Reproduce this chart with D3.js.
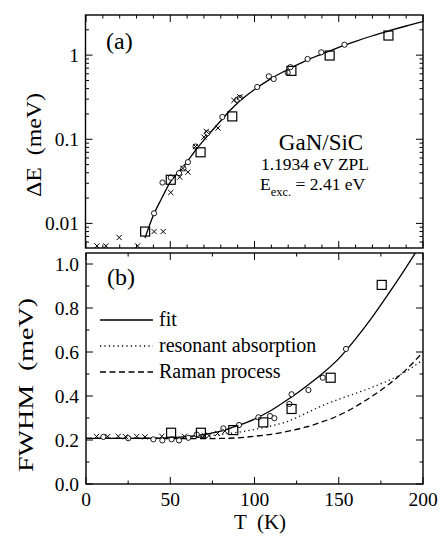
<!DOCTYPE html>
<html>
<head>
<meta charset="utf-8">
<script src="https://cdn.jsdelivr.net/npm/d3@7"></script>
<style>
  body { margin: 0; background: #fff; }
  text { font-family: "Liberation Serif", "DejaVu Serif", serif; fill: #000; }
</style>
</head>
<body>
<div id="top"></div>
<script>
// panel (a): energy splitting, log scale
var aCrosses = [[6.5,0.0054],[11.8,0.0054],[19.7,0.0068],[30.6,0.0054],[40.4,0.0080],[45.8,0.0080],
  [50.3,0.0233],[55.6,0.0355],[57.5,0.045],[60.5,0.0407],[65,0.082],[70,0.106],[71.4,0.124],
  [78.3,0.136],[87.8,0.29],[91.3,0.32]];
var aCircles = [[40.4,0.0132],[45.4,0.0306],[50.3,0.035],[55.2,0.0396],[57.8,0.045],[60.5,0.0535],
  [65,0.082],[72,0.118],[80.9,0.184],[89.7,0.295],[91.3,0.31],[101.6,0.418],[108.5,0.56],
  [111.4,0.52],[119.7,0.62],[121.3,0.72],[131.5,0.90],[139.6,1.08],[153.4,1.33]];
var aSquares = [[35.1,0.0080],[50.3,0.033],[68,0.070],[86.8,0.187],[121.9,0.65],[144.6,0.99],[179.5,1.71]];
var aFit = [[35,0.0067],[40,0.0125],[45,0.020],[50,0.031],[55,0.041],[60,0.054],[65,0.074],[70,0.098],
  [75,0.128],[80,0.166],[85,0.215],[90,0.27],[100,0.39],[110,0.53],[120,0.68],[130,0.85],[140,1.03],
  [150,1.24],[160,1.46],[170,1.70],[180,1.95],[190,2.22],[200,2.5]];

// panel (b): linewidth
var bCrosses = [[6.3,0.216],[12.9,0.216],[19.2,0.217],[23.5,0.215],[30.1,0.216],[35,0.214],[45,0.217],
  [58.4,0.217],[70.2,0.22],[73,0.22],[78.1,0.23],[82.4,0.24]];
var bCircles = [[10.3,0.214],[25.1,0.208],[40,0.203],[45.3,0.198],[50.8,0.203],[55.2,0.198],[60.7,0.21],
  [65.7,0.225],[81.5,0.253],[90.8,0.268],[102.3,0.303],[109.2,0.309],[111.8,0.299],[120.7,0.364],
  [122,0.408],[132,0.427],[140.5,0.483],[154.3,0.614]];
var bSquares = [[50.5,0.233],[68.2,0.233],[87.4,0.245],[105.2,0.28],[122,0.341],[145.2,0.483],[175.5,0.905]];
var bFit = [[0,0.207],[20,0.207],[40,0.208],[50,0.21],[60,0.215],[70,0.225],[80,0.24],[90,0.265],
  [100,0.295],[110,0.335],[120,0.385],[130,0.44],[140,0.50],[150,0.57],[160,0.66],[170,0.76],
  [180,0.87],[190,0.985],[200,1.105]];
var bResonant = [[0,0.207],[40,0.207],[60,0.212],[70,0.217],[80,0.225],[90,0.235],[100,0.248],
  [110,0.264],[120,0.285],[130,0.32],[140,0.355],[150,0.385],[160,0.412],[170,0.44],[180,0.472],
  [190,0.512],[200,0.565]];
var bRaman = [[0,0.207],[40,0.207],[60,0.206],[80,0.207],[90,0.21],[100,0.217],[110,0.226],[120,0.24],
  [130,0.258],[140,0.282],[150,0.312],[160,0.352],[170,0.40],[180,0.455],[190,0.52],[200,0.6]];

var xTickLabels = [0, 50, 100, 150, 200];
var aTickLabels = [0.01, 0.1, 1];
var bTickLabels = [0.0, 0.2, 0.4, 0.6, 0.8, 1.0];
var legendLabels = ["fit", "resonant absorption", "Raman process"];

var svg = d3.select('#top').append('svg').attr('width', 440).attr('height', 540);

var x = d3.scaleLinear().domain([0, 200]).range([86, 423]);
var yA = d3.scaleLog().domain([0.0051, 3.0]).range([248, 15]);
var yB = d3.scaleLinear().domain([0, 1.05]).range([484, 253]);

svg.append('clipPath').attr('id', 'clipA').append('rect')
  .attr('x', 86).attr('y', 15).attr('width', 337).attr('height', 233);
svg.append('clipPath').attr('id', 'clipB').append('rect')
  .attr('x', 86).attr('y', 253).attr('width', 337).attr('height', 231);

// ticks pointing inward on all four sides
function ticks(g, scale, vals, side, pos, len) {
  g.selectAll(null).data(vals).enter().append('line')
    .attr('stroke', '#000').attr('stroke-width', 1)
    .each(function(d) {
      var s = d3.select(this), p = scale(d);
      if (side == 'bottom') s.attr('x1', p).attr('x2', p).attr('y1', pos).attr('y2', pos - len);
      if (side == 'top') s.attr('x1', p).attr('x2', p).attr('y1', pos).attr('y2', pos + len);
      if (side == 'left') s.attr('y1', p).attr('y2', p).attr('x1', pos).attr('x2', pos + len);
      if (side == 'right') s.attr('y1', p).attr('y2', p).attr('x1', pos).attr('x2', pos - len);
    });
}

var xMajor = xTickLabels;
var xMinorA = d3.range(10, 200, 10).filter(function(d) { return d % 50 != 0; });
var xMinorB = [25, 75, 125, 175];

// panel a ticks
var ga = svg.append('g');
var aMinor = [];
[0.001, 0.01, 0.1, 1].forEach(function(dec) {
  for (var k = 2; k <= 9; k++) {
    var v = dec * k;
    if (v > 0.0051 && v < 3.0) aMinor.push(v);
  }
});
ticks(ga, x, xMajor, 'bottom', 248, 7);
ticks(ga, x, xMinorA, 'bottom', 248, 3.5);
ticks(ga, x, xMajor, 'top', 15, 7);
ticks(ga, x, xMinorA, 'top', 15, 3.5);
ticks(ga, yA, aTickLabels, 'left', 85.5, 7);
ticks(ga, yA, aMinor, 'left', 85.5, 3.5);
ticks(ga, yA, aTickLabels, 'right', 423, 7);
ticks(ga, yA, aMinor, 'right', 423, 3.5);

// panel b ticks
var gb = svg.append('g');
var bMinor = [0.1, 0.3, 0.5, 0.7, 0.9];
ticks(gb, x, xMajor, 'bottom', 484, 7);
ticks(gb, x, xMinorB, 'bottom', 484, 3.5);
ticks(gb, x, xMajor, 'top', 253, 7);
ticks(gb, x, xMinorB, 'top', 253, 3.5);
ticks(gb, yB, bTickLabels, 'left', 86, 7);
ticks(gb, yB, bMinor, 'left', 86, 3.5);
ticks(gb, yB, bTickLabels, 'right', 423, 7);
ticks(gb, yB, bMinor, 'right', 423, 3.5);

// frames
svg.append('rect').attr('x', 85.5).attr('y', 15).attr('width', 337.5).attr('height', 233)
  .attr('fill', 'none').attr('stroke', '#000').attr('stroke-width', 1.4);
svg.append('rect').attr('x', 86).attr('y', 253).attr('width', 337).attr('height', 231)
  .attr('fill', 'none').attr('stroke', '#000').attr('stroke-width', 1.4);

// tick labels
svg.selectAll('.aLab').data(aTickLabels).enter().append('text')
  .attr('x', 79).attr('y', function(d) { return yA(d) + 7; })
  .attr('text-anchor', 'end').attr('font-size', 19.5)
  .text(function(d) { return d >= 1 ? '1' : String(d); });
svg.selectAll('.bLab').data(bTickLabels).enter().append('text')
  .attr('x', 79).attr('y', function(d) { return yB(d) + 7; })
  .attr('text-anchor', 'end').attr('font-size', 19.5)
  .text(function(d) { return d.toFixed(1); });
svg.selectAll('.xLab').data(xTickLabels).enter().append('text')
  .attr('x', function(d) { return x(d); }).attr('y', 506)
  .attr('text-anchor', 'middle').attr('font-size', 19.5)
  .text(function(d) { return d; });

// axis titles
svg.append('text').attr('x', 260).attr('y', 529).attr('text-anchor', 'middle')
  .attr('font-size', 21).attr('xml:space', 'preserve').text('T  (K)');
svg.append('text').attr('transform', 'translate(41,145) rotate(-90)').attr('text-anchor', 'middle')
  .attr('font-size', 21).attr('textLength', 104).attr('lengthAdjust', 'spacingAndGlyphs')
  .attr('xml:space', 'preserve').text('\u0394E  (meV)');
svg.append('text').attr('transform', 'translate(33,385) rotate(-90)').attr('text-anchor', 'middle')
  .attr('font-size', 22).attr('textLength', 174).attr('lengthAdjust', 'spacingAndGlyphs')
  .attr('xml:space', 'preserve').text('FWHM  (meV)');

// panel labels and annotation
svg.append('text').attr('x', 106).attr('y', 49).attr('font-size', 24).text('(a)');
svg.append('text').attr('x', 107).attr('y', 285).attr('font-size', 24).text('(b)');
svg.append('text').attr('x', 321).attr('y', 150).attr('text-anchor', 'middle').attr('font-size', 23).text('GaN/SiC');
svg.append('text').attr('x', 315).attr('y', 170).attr('text-anchor', 'middle').attr('font-size', 17.5).text('1.1934 eV ZPL');
var ex = svg.append('text').attr('x', 260).attr('y', 190).attr('font-size', 17.5);
ex.append('tspan').text('E');
ex.append('tspan').attr('font-size', 12.5).attr('dy', 6).text('exc.');
ex.append('tspan').attr('dy', -6).text(' = 2.41 eV');

// curves
var lineA = d3.line().x(function(d) { return x(d[0]); }).y(function(d) { return yA(d[1]); }).curve(d3.curveMonotoneX);
var lineB = d3.line().x(function(d) { return x(d[0]); }).y(function(d) { return yB(d[1]); }).curve(d3.curveMonotoneX);

var pa = svg.append('g').attr('clip-path', 'url(#clipA)');
var pb = svg.append('g').attr('clip-path', 'url(#clipB)');

pa.append('path').attr('d', lineA(aFit)).attr('fill', 'none').attr('stroke', '#000').attr('stroke-width', 1.3);

var styles = [null, '1.2,3.2', '6,3.5'];
pb.append('path').attr('d', lineB(bRaman)).attr('fill', 'none').attr('stroke', '#000')
  .attr('stroke-width', 1.3).attr('stroke-dasharray', styles[2]);
pb.append('path').attr('d', lineB(bResonant)).attr('fill', 'none').attr('stroke', '#000')
  .attr('stroke-width', 1.3).attr('stroke-dasharray', styles[1]);
pb.append('path').attr('d', lineB(bFit)).attr('fill', 'none').attr('stroke', '#000').attr('stroke-width', 1.3);

// markers
function markers(g, ys, crosses, circles, squares) {
  g.selectAll(null).data(circles).enter().append('circle')
    .attr('cx', function(d) { return x(d[0]); }).attr('cy', function(d) { return ys(d[1]); })
    .attr('r', 2.6).attr('fill', '#fff').attr('stroke', '#000').attr('stroke-width', 0.9);
  g.selectAll(null).data(squares).enter().append('rect')
    .attr('x', function(d) { return x(d[0]) - 4.5; }).attr('y', function(d) { return ys(d[1]) - 4.5; })
    .attr('width', 9).attr('height', 9).attr('fill', 'none').attr('stroke', '#000').attr('stroke-width', 1.2);
  g.selectAll(null).data(crosses).enter().append('path')
    .attr('transform', function(d) { return 'translate(' + x(d[0]) + ',' + ys(d[1]) + ')'; })
    .attr('d', 'M-2.6,-2.6L2.6,2.6M-2.6,2.6L2.6,-2.6').attr('stroke', '#000').attr('stroke-width', 1);
}
markers(pa, yA, aCrosses, aCircles, aSquares);
markers(pb, yB, bCrosses, bCircles, bSquares);

// legend
var lg = svg.append('g');
legendLabels.forEach(function(name, i) {
  var ly = 320 + i * 26;
  var ln = lg.append('line').attr('x1', 100).attr('x2', 153).attr('y1', ly).attr('y2', ly)
    .attr('stroke', '#000').attr('stroke-width', 1.3);
  if (styles[i]) ln.attr('stroke-dasharray', styles[i]);
  lg.append('text').attr('x', 159).attr('y', ly + 6).attr('font-size', 20).text(name);
});
</script>
</body>
</html>
